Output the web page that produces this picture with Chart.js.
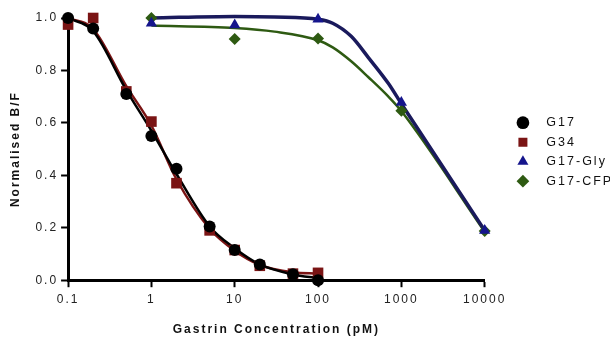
<!DOCTYPE html>
<html>
<head>
<meta charset="utf-8">
<script src="https://cdn.jsdelivr.net/npm/chart.js@4.4.1/dist/chart.umd.min.js"></script>
<style>
  html, body { margin: 0; padding: 0; background: #fff; }
  #wrap { width: 615px; height: 338px; }
</style>
</head>
<body>
<div id="wrap"><canvas id="chart"></canvas></div>
<script>
// measured points
const shortConc = [0.1, 0.2, 0.5, 1, 2, 5, 10, 20, 50, 100];
const g17Vals = [1.0, 0.96, 0.71, 0.55, 0.425, 0.205, 0.115, 0.06, 0.023, 0.0];
const g34Vals = [0.975, 1.0, 0.72, 0.605, 0.37, 0.19, 0.115, 0.055, 0.025, 0.028];
const longConc = [1, 10, 100, 1000, 10000];
const glyVals = [0.98, 0.973, 0.995, 0.678, 0.19];
const cfpVals = [1.0, 0.92, 0.922, 0.646, 0.188];

// fitted curves
const g17Fit = [1.0, 0.95, 0.725, 0.57, 0.405, 0.205, 0.122, 0.06, 0.022, 0.008];
const g34Fit = [1.0, 0.958, 0.74, 0.59, 0.385, 0.196, 0.112, 0.058, 0.03, 0.025];
const fitLongConc = [1, 10, 30, 100, 150, 250, 400, 700, 1000, 10000];
const glyFit = [1.0, 1.006, 1.004, 0.995, 0.98, 0.93, 0.85, 0.75, 0.673, 0.19];
const cfpFit = [0.971, 0.962, 0.948, 0.915, 0.888, 0.835, 0.775, 0.70, 0.645, 0.185];

const xTicks = [0.1, 1, 10, 100, 1000, 10000];

const pts = (xs, ys) => xs.map((x, i) => ({ x, y: ys[i] }));

const markers = (label, xs, ys, color, style, r) => ({
  label, data: pts(xs, ys), showLine: false,
  pointStyle: style, pointRadius: r, pointHoverRadius: r,
  backgroundColor: color, borderColor: color, borderWidth: 0, clip: false
});
const curve = (label, xs, ys, color, w) => ({
  label, data: pts(xs, ys), pointRadius: 0, borderColor: color,
  borderWidth: w, fill: false, cubicInterpolationMode: 'monotone', clip: false
});

// the figure text is spaced out
const spacing = {
  id: 'spacing',
  beforeLayout: c => { c.ctx.letterSpacing = '2px'; },
  beforeDraw: c => { c.ctx.letterSpacing = '2px'; }
};

const axisOpts = {
  grid: { drawOnChartArea: false, tickLength: 7, tickWidth: 2, tickColor: '#000' },
  border: { color: '#000', width: 3 }
};
const font = { family: 'Liberation Sans, Arial', size: 12 };

new Chart(document.getElementById('chart'), {
  type: 'line',
  data: {
    datasets: [
      markers('G17', shortConc, g17Vals, '#000000', 'circle', 6),
      markers('G34', shortConc, g34Vals, '#7a1414', 'rect', 7.5),
      markers('G17-Gly', longConc, glyVals, '#15158c', 'triangle', 6.5),
      markers('G17-CFP', longConc, cfpVals, '#2e5a12', 'rectRot', 6),
      curve('G17 fit', shortConc, g17Fit, '#000000', 2.5),
      curve('G34 fit', shortConc, g34Fit, '#7a1414', 2.5),
      curve('G17-Gly fit', fitLongConc, glyFit, '#1a1a5c', 3.5),
      curve('G17-CFP fit', fitLongConc, cfpFit, '#2e5a12', 2.5)
    ]
  },
  options: {
    responsive: true,
    maintainAspectRatio: false,
    animation: false,
    layout: { padding: { top: 18, left: 8, right: 5, bottom: 1 } },
    plugins: {
      legend: {
        position: 'right',
        align: 'start',
        title: { display: true, text: '', padding: { top: 77, bottom: 0 } },
        labels: {
          usePointStyle: true, boxHeight: 9, padding: 7,
          color: '#111', font: { family: 'Liberation Sans, Arial', size: 12.5 },
          generateLabels: c => Chart.defaults.plugins.legend.labels.generateLabels(c)
            .filter(it => it.datasetIndex < 4)
            .map(it => ({ ...it, text: '  ' + it.text }))
        }
      },
      tooltip: { enabled: false }
    },
    scales: {
      x: {
        type: 'logarithmic', min: 0.1, max: 10000,
        afterBuildTicks: s => { s.ticks = xTicks.map(v => ({ value: v })); },
        ticks: { color: '#222', font, callback: v => String(v), maxRotation: 0, padding: 5 },
        title: {
          display: true, text: 'Gastrin Concentration (pM)', color: '#111',
          font: { ...font, weight: 'bold' }, padding: { top: 11, bottom: 0 }
        },
        ...axisOpts
      },
      y: {
        min: 0, max: 1,
        ticks: { stepSize: 0.2, color: '#222', font, callback: v => v.toFixed(1), padding: 3 },
        title: {
          display: true, text: 'Normalised B/F', color: '#111',
          font: { ...font, weight: 'bold' }, padding: { top: 0, bottom: 10 }
        },
        ...axisOpts
      },
      // empty spacer between the plot and the legend
      gap: {
        position: 'right', display: true,
        grid: { display: false, drawTicks: false }, border: { display: false },
        ticks: { display: false },
        afterFit: s => { s.width = 25; }
      }
    }
  },
  plugins: [spacing]
});
</script>
</body>
</html>
